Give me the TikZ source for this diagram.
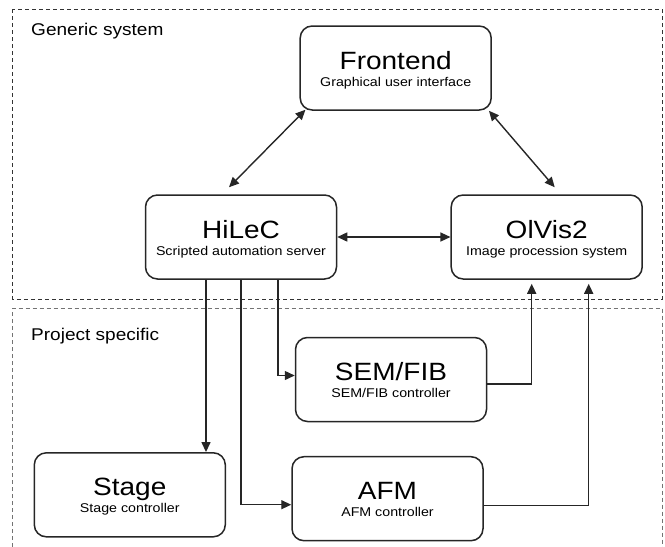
\documentclass[tikz,border=0pt]{standalone}
\usepackage{fontspec}
\setmainfont[FakeStretch=1.12]{Liberation Sans}
\usetikzlibrary{arrows.meta, positioning, calc}

\newcommand{\blocktitle}[1]{{\fontsize{25}{25}\selectfont #1}}

\begin{document}
\begin{tikzpicture}[x=1pt, y=-1pt, >={Triangle[length=10pt,width=9pt]},
  block/.style={draw=black!85, line width=1.5pt, rounded corners=12pt, minimum width=191pt, minimum height=84pt,
    align=center, inner sep=0pt, text height=36pt, text depth=0pt, font=\fontsize{12.7}{17}\selectfont},
  link/.style={->, line width=1.4pt, draw=black!85},
  both/.style={<->, line width=1.4pt, draw=black!85},
  area/.style={dash pattern=on 4pt off 3pt, line width=0.9pt},
  areatitle/.style={anchor=base west, inner sep=0pt, font=\fontsize{17}{17}\selectfont}]
  \useasboundingbox (0,0) rectangle (665,547);

  % === GENERIC SYSTEM ===
  \draw[area, black!80] (12.7,9.3) rectangle (662,299);
  \node[areatitle] (generic) at (31,35.5) {Generic system};

  \node[block] (frontend) at (395.7,68) {\blocktitle{Frontend}\\Graphical user interface};
  \node[block] (hilec) at (241,237) {\blocktitle{HiLeC}\\Scripted automation server};
  \node[block] (olvis) at (546.7,237) {\blocktitle{OlVis2}\\Image procession system};

  % === PROJECT SPECIFIC ===
  \draw[area, black!55] (12.7,547) -- (12.7,308) -- (662,308) -- (662,547);
  \node[areatitle] (project) at (31,340.5) {Project specific};

  \node[block] (semfib) at (391,379.5) {\blocktitle{SEM/FIB}\\SEM/FIB controller};
  \node[block] (stage) at (129.8,494.8) {\blocktitle{Stage}\\Stage controller};
  \node[block] (afm) at (387.5,498.7) {\blocktitle{AFM}\\AFM controller};

  % Liens generiques
  \draw[both] ([xshift=6pt,yshift=1pt]frontend.south west) -- ([xshift=-12pt,yshift=7pt]hilec.north);
  \draw[both] ([xshift=-3pt]frontend.south east) -- ([xshift=8pt,yshift=7pt]olvis.north);
  \draw[both] (hilec.east) -- (olvis.west);

  % Liens vers le materiel
  \draw[link] ([xshift=-35pt]hilec.south) -- ([xshift=-35pt]hilec.south |- stage.north);
  \draw[link] (hilec.south) |- ([yshift=-6pt]afm.west);
  \draw[link] ([xshift=37pt]hilec.south) |- ([yshift=4pt]semfib.west);

  % Retour vers OlVis2
  \draw[link, shorten >=4pt] ([yshift=-4.5pt]semfib.east) -| ([xshift=-15pt]olvis.south);
  \draw[link, shorten >=4pt] ([yshift=-7pt]afm.east) -| ([xshift=42pt]olvis.south);
\end{tikzpicture}
\end{document}
